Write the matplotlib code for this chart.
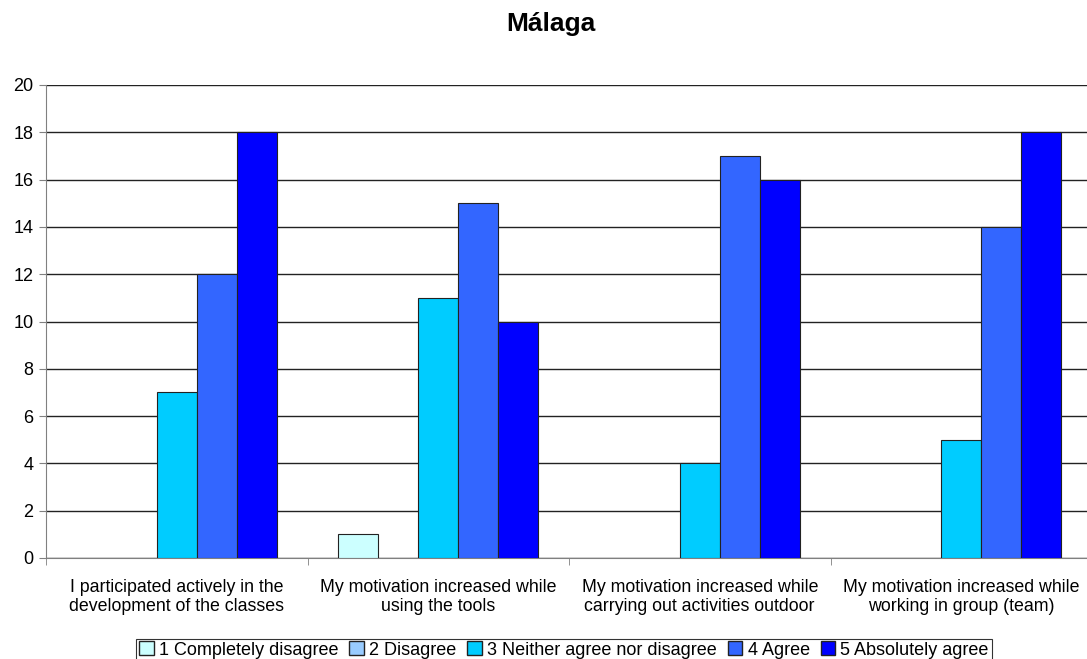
import numpy as np
import matplotlib.pyplot as plt
from matplotlib.patches import Patch

plt.rcParams['font.family'] = ['Liberation Sans', 'DejaVu Sans']

categorias = ["I participated actively in the\ndevelopment of the classes",
              "My motivation increased while\nusing the tools",
              "My motivation increased while\ncarrying out activities outdoor",
              "My motivation increased while\nworking in group (team)"]
series = ["1 Completely disagree", "2 Disagree", "3 Neither agree nor disagree",
          "4 Agree", "5 Absolutely agree"]
valores = [
    [0, 1, 0, 0],
    [0, 0, 0, 0],
    [7, 11, 4, 5],
    [12, 15, 17, 14],
    [18, 10, 16, 18],
]
colores = ['#CCFFFF', '#99CCFF', '#00CCFF', '#3366FF', '#0000FF']

fig = plt.figure(figsize=(10.87, 6.59), dpi=100)
# el área del gráfico se sale un poco por la derecha, como en el original
ax = fig.add_axes([46/1087, 1-558/659, (1092-46)/1087, (558-85)/659])

x = np.arange(len(categorias))
ancho = 40/261.5
for i, (s, v, c) in enumerate(zip(series, valores, colores)):
    v = np.array(v, dtype=float)
    pos = x - 2*ancho + i*ancho
    mask = v > 0
    ax.bar(pos[mask], v[mask], width=ancho, color=c, edgecolor='#222222', linewidth=0.8, zorder=3)

ax.set_xlim(-0.5, 3.5)
ax.set_ylim(0, 20)
ax.set_yticks(range(0, 21, 2))
ax.yaxis.grid(True, color='#222222', linewidth=1, zorder=0)
ax.tick_params(axis='y', labelsize=13, length=5, color='#808080', pad=4)
ax.set_xticks(x)
ax.set_xticklabels(categorias, fontsize=12.8, linespacing=1.15)
ax.tick_params(axis='x', length=0, pad=15)
ax.set_xticks(np.arange(-0.5, 3.6, 1), minor=True)
ax.tick_params(axis='x', which='minor', length=5, color='#808080')
for lado in ['top', 'right']:
    ax.spines[lado].set_visible(False)
ax.spines['left'].set_color('#808080')
ax.spines['bottom'].set_color('#808080')

fig.text(551/1087, 1-24/659, "Málaga", ha='center', va='center', fontsize=19, fontweight='bold')

handles = [Patch(facecolor=c, edgecolor='#222222', label=s) for s, c in zip(series, colores)]
leg = fig.legend(handles=handles, loc='center', bbox_to_anchor=(564/1087, 1-650/659), ncol=5,
                 fontsize=13, frameon=True, fancybox=False, edgecolor='black',
                 handlelength=0.8, handleheight=0.8, handletextpad=0.3, columnspacing=0.6,
                 borderpad=0.15)
leg.get_frame().set_linewidth(0.8)

fig.savefig('out.png', dpi=100)
